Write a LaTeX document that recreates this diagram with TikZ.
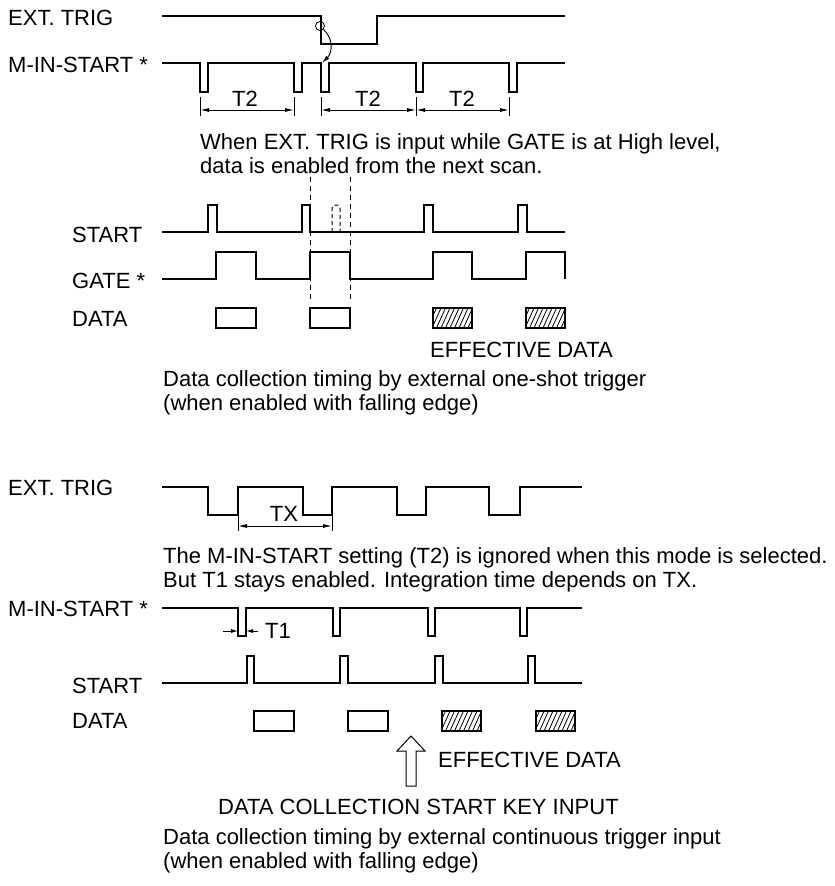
\documentclass[tikz,border=0pt]{standalone}
\usepackage{fontspec}
\setmainfont{Liberation Sans}
\usetikzlibrary{arrows.meta}

\tikzset{
  lbl/.style={anchor=base west, inner sep=0pt, font=\fontsize{22}{24}\selectfont},
  wave/.style={line width=1.4pt, line join=miter},
  dimline/.style={line width=0.9pt, {Latex[length=9pt,width=4pt]}-{Latex[length=9pt,width=4pt]}},
  tickline/.style={line width=0.9pt},
  databox/.style={draw, line width=1.1pt},
  hatchline/.style={line width=0.8pt},
  dashline/.style={line width=1pt, dash pattern=on 5pt off 4pt},
}

% hatched data box: left, top, right, bottom
\newcommand\hatchbox[4]{%
  \begin{scope}
    \clip (#1,#2) rectangle (#3,#4);
    \foreach \hx in {-10,-5.5,...,40} \draw [hatchline] ({#1+\hx},#4) -- ++(9,-20);
  \end{scope}
  \draw [databox] (#1,#2) rectangle (#3,#4);}

\begin{document}
\begin{tikzpicture}[x=1pt,y=-1pt]
\useasboundingbox (0,0) rectangle (835,886);

% one-shot trigger
\node [lbl] (trig1) at (8,25) {EXT. TRIG};
\node [lbl] (mins1) at (8,72) {M-IN-START *};
\draw [wave] (162,16) -- (321,16) -- (321,44) -- (377,44) -- (377,16) -- (565,16);
\draw [wave] (162,63) -- (200,63) -- (200,92) -- (208,92) -- (208,63) -- (294,63) -- (294,92) -- (302,92) -- (302,63)
  -- (321,63) -- (321,92) -- (329,92) -- (329,63) -- (416,63) -- (416,92) -- (423,92) -- (423,63)
  -- (509,63) -- (509,92) -- (517,92) -- (517,63) -- (565,63);
\node [circle, draw, line width=0.8pt, minimum size=9pt, inner sep=0pt] (trigpt) at (320,26) {};
\coordinate (trighit) at (322,63);
\draw [line width=0.9pt, -{Latex[length=8pt,width=4pt]}] (trigpt.south east) .. controls (333,38) and (333,52) .. (trighit);

\foreach \x/\n in {200/a, 294/b, 321/c, 416/d, 509/e} {
  \draw [tickline] (\x,97) -- (\x,116);
  \coordinate (t2\n) at (\x,110);
}
\draw [dimline] (t2a) -- (t2b);
\draw [dimline] (t2c) -- (t2d);
\draw [dimline] (t2d) -- (t2e);
\node [lbl, anchor=base] (t2l1) at (245,106) {T2};
\node [lbl, anchor=base] (t2l2) at (368,106) {T2};
\node [lbl, anchor=base] (t2l3) at (462,106) {T2};

\node [lbl] (note1a) at (200,149) {When EXT. TRIG is input while GATE is at High level,};
\node [lbl] (note1b) at (200,173) {data is enabled from the next scan.};

\node [lbl] (start1) at (72,242) {START};
\node [lbl] (gate1) at (72,288) {GATE *};
\node [lbl] (data1) at (72,326) {DATA};
\draw [wave] (162,232) -- (208,232) -- (208,205) -- (217,205) -- (217,232) -- (302,232) -- (302,205) -- (310,205) -- (310,232)
  -- (424,232) -- (424,205) -- (433,205) -- (433,232) -- (518,232) -- (518,205) -- (527,205) -- (527,232) -- (565,232);
\draw [line width=1pt, dash pattern=on 4pt off 3pt, rounded corners=3pt] (332,232) -- (332,205) -- (340,205) -- (340,232);
\draw [wave] (162,279) -- (216,279) -- (216,252) -- (256,252) -- (256,279) -- (310,279) -- (310,252) -- (350,252) -- (350,279)
  -- (433,279) -- (433,252) -- (472,252) -- (472,279) -- (526,279) -- (526,252) -- (565,252) -- (565,279);
\draw [dashline] (310,177) -- (310,302);
\draw [dashline] (350,177) -- (350,302);
\draw [databox] (216,308) rectangle (256,328);
\draw [databox] (310,308) rectangle (350,328);
\hatchbox{433}{308}{472}{328}
\hatchbox{526}{308}{565}{328}
\node [lbl] (eff1) at (430,357) {EFFECTIVE DATA};

\node [lbl] (cap1a) at (163,386) {Data collection timing by external one-shot trigger};
\node [lbl] (cap1b) at (163,410) {(when enabled with falling edge)};

% continuous trigger
\node [lbl] (trig2) at (8,495) {EXT. TRIG};
\draw [wave] (162,487) -- (208,487) -- (208,515) -- (238,515) -- (238,487) -- (303,487) -- (303,515) -- (332,515) -- (332,487)
  -- (397,487) -- (397,515) -- (426,515) -- (426,487) -- (489,487) -- (489,515) -- (520,515) -- (520,487) -- (582,487);
\draw [tickline] (238,515) -- (238,531);
\draw [tickline] (332,515) -- (332,531);
\coordinate (txa) at (238,526);
\coordinate (txb) at (332,526);
\draw [dimline] (txa) -- (txb);
\node [lbl, anchor=base] (txl) at (284,521) {TX};

\node [lbl] (note2a) at (163,563) {The M-IN-START setting (T2) is ignored when this mode is selected.};
\node [lbl] (note2b) at (163,587) {But T1 stays enabled. Integration time depends on TX.};

\node [lbl] (mins2) at (8,616) {M-IN-START *};
\draw [wave] (162,608) -- (238,608) -- (238,636) -- (246,636) -- (246,608) -- (333,608) -- (333,636) -- (340,636) -- (340,608)
  -- (428,608) -- (428,636) -- (435,636) -- (435,608) -- (520,608) -- (520,636) -- (527,636) -- (527,608) -- (582,608);
\coordinate (t1a) at (238,631);
\coordinate (t1b) at (246,631);
\coordinate (t1c) at (223,631);
\coordinate (t1d) at (258,631);
\draw [line width=0.9pt, -{Latex[length=7pt,width=4pt]}] (t1c) -- (t1a);
\draw [line width=0.9pt, -{Latex[length=7pt,width=4pt]}] (t1d) -- (t1b);
\node [lbl] (t1l) at (265,638) {T1};

\node [lbl] (start2) at (72,693) {START};
\node [lbl] (data2) at (72,728) {DATA};
\draw [wave] (162,683) -- (247,683) -- (247,656) -- (254,656) -- (254,683) -- (340,683) -- (340,656) -- (348,656) -- (348,683)
  -- (435,683) -- (435,656) -- (443,656) -- (443,683) -- (528,683) -- (528,656) -- (535,656) -- (535,683) -- (582,683);
\draw [databox] (254,711) rectangle (294,731);
\draw [databox] (348,711) rectangle (388,731);
\hatchbox{442}{711}{481}{731}
\hatchbox{536}{711}{575}{731}

% key input arrow
\draw [line width=1pt, line join=miter] (411,736) -- (425,751) -- (416,751) -- (416,786) -- (406,786) -- (406,751) -- (397,751) -- cycle;
\node [lbl] (eff2) at (438,767) {EFFECTIVE DATA};
\node [lbl] (keyin) at (218,814) {DATA COLLECTION START KEY INPUT};

\node [lbl] (cap2a) at (163,844) {Data collection timing by external continuous trigger input};
\node [lbl] (cap2b) at (163,868) {(when enabled with falling edge)};
\end{tikzpicture}
\end{document}
